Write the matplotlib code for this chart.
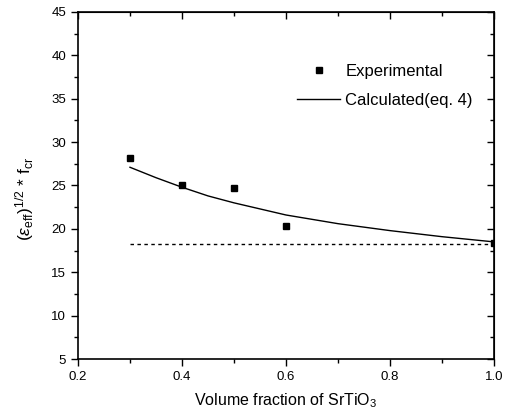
import matplotlib
matplotlib.use("Agg")
import matplotlib.pyplot as plt
from matplotlib.ticker import MultipleLocator

plt.rcParams.update({
    "font.family": ["Liberation Sans", "DejaVu Sans"],
    "mathtext.fontset": "custom",
    "mathtext.rm": "Liberation Sans",
    "mathtext.it": "Liberation Sans:italic",
})

# Data
x_exp = [0.3, 0.4, 0.5, 0.6, 1.0]
y_exp = [28.2, 25.1, 24.7, 20.3, 18.4]

x_calc = [0.3, 0.35, 0.4, 0.45, 0.5, 0.6, 0.7, 0.8, 0.9, 1.0]
y_calc = [27.1, 25.9, 24.8, 23.8, 23.0, 21.6, 20.6, 19.8, 19.1, 18.5]

x_ref = [0.3, 1.0]
y_ref = [18.3, 18.3]

xlim = (0.2, 1.0)
ylim = (5, 45)

fig = plt.figure(figsize=(5.05, 4.16), dpi=100)
ax = fig.add_axes([78/505, 1 - 359/416, (494 - 78)/505, (359 - 12)/416])

ax.plot(x_exp, y_exp, "s", color="black", markersize=5, label="Experimental")
ax.plot(x_calc, y_calc, "-", color="black", linewidth=1.0, label="Calculated(eq. 4)")
ax.plot(x_ref, y_ref, color="black", linewidth=1.0, linestyle=(0, (2.5, 2.5)))

ax.set_xlim(*xlim)
ax.set_ylim(*ylim)
ax.xaxis.set_major_locator(MultipleLocator(0.2))
ax.xaxis.set_minor_locator(MultipleLocator(0.1))
ax.yaxis.set_major_locator(MultipleLocator(5))
ax.yaxis.set_minor_locator(MultipleLocator(2.5))
ax.xaxis.set_major_formatter(lambda v, p: f"{v:.1f}")

ax.tick_params(which="major", direction="out", length=5, width=1, labelsize=9.5)
ax.tick_params(which="minor", direction="out", length=3, width=1)
for s in ax.spines.values():
    s.set_linewidth(1.2)

# top and right axes with inward ticks, no labels
top = ax.secondary_xaxis("top")
top.xaxis.set_major_locator(MultipleLocator(0.2))
top.xaxis.set_minor_locator(MultipleLocator(0.1))
top.tick_params(which="major", direction="in", length=5, width=1, labeltop=False)
top.tick_params(which="minor", direction="in", length=3, width=1)
right = ax.secondary_yaxis("right")
right.yaxis.set_major_locator(MultipleLocator(5))
right.yaxis.set_minor_locator(MultipleLocator(2.5))
right.tick_params(which="major", direction="in", length=5, width=1, labelright=False)
right.tick_params(which="minor", direction="in", length=3, width=1)

ax.set_xlabel("Volume fraction of SrTiO$_3$", fontsize=11.5, labelpad=6)
ax.set_ylabel(r"($\varepsilon_{\mathrm{eff}}$)$^{\mathrm{1/2}}$ * f$_{\mathrm{cr}}$", fontsize=12.5)
ax.yaxis.set_label_coords(-0.10, 0.46)

ax.legend(loc="upper left", bbox_to_anchor=(297/505, 1 - 64/416), bbox_transform=fig.transFigure,
          frameon=False, fontsize=12, handlelength=2.6, handletextpad=0.3, borderpad=0,
          borderaxespad=0, labelspacing=0.85)

fig.savefig("out.png", dpi=100)
